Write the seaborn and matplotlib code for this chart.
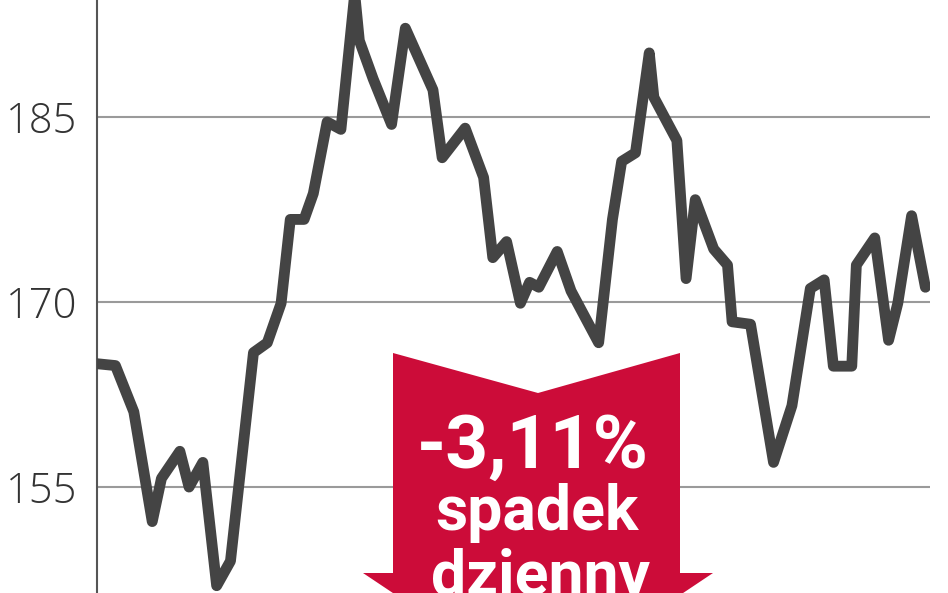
import matplotlib
matplotlib.use('Agg')

import pandas as pd
import numpy as np
from matplotlib import pyplot as plt
from matplotlib.patches import Polygon
import seaborn as sns

# notowania - numer dnia i kurs
dni = [0, 4, 8, 12, 14, 18, 20, 23, 26, 29, 34, 37, 40, 42, 45, 47, 50, 53,
       56, 57, 60, 64, 67, 70, 73, 75, 80, 84, 86, 89, 92, 94, 96, 100, 103,
       109, 112, 114, 117, 120, 121, 126, 128, 130, 134, 137, 138, 142, 147,
       151, 155, 158, 160, 164, 165, 169, 172, 174, 177, 180]
kurs = [165.0, 164.85, 161.1, 152.2, 155.7, 157.9, 155.0, 157.0, 147.0, 149.0,
        165.9, 166.7, 169.9, 176.7, 176.7, 178.8, 184.6, 184.0, 195.0, 191.2,
        188.1, 184.4, 192.2, 189.7, 187.2, 181.7, 184.1, 180.1, 173.6, 174.9,
        169.9, 171.6, 171.2, 174.1, 170.9, 166.7, 176.7, 181.4, 182.1, 190.2,
        186.6, 183.1, 171.9, 178.3, 174.3, 173.0, 168.4, 168.2, 157.0, 161.6,
        171.1, 171.8, 164.8, 164.8, 173.0, 175.2, 166.9, 169.9, 177.0, 171.2]
poziomy = [155, 170, 185]
etykiety = ['155', '170', '185']
zmiana = '-3,11%'
opis = ['spadek', 'dzienny']

df = pd.DataFrame({'dzien': dni, 'kurs': kurs})

sns.set_style('white')
plt.rcParams['font.family'] = ['Open Sans', 'DejaVu Sans']

W, H = 948, 593
fig = plt.figure(figsize=(W / 100, H / 100), dpi=100)
ax = fig.add_axes([97 / W, 0, (930 - 97) / W, 1])

for p in poziomy:
    ax.axhline(p, color='#9a9a9a', lw=1.5, zorder=1)

sns.lineplot(data=df, x='dzien', y='kurs', ax=ax, color='#444444', lw=7.8,
             estimator=None, zorder=3, solid_joinstyle='round',
             solid_capstyle='round')

ax.set_xlim(0, 181)
ax.set_ylim(146.41, 194.49)
ax.set_xticks([])
ax.set_yticks(poziomy)
ax.set_yticklabels(etykiety, fontsize=30, fontweight='light', color='#333333')
ax.tick_params(axis='y', length=0, pad=14)
ax.set_xlabel('')
ax.set_ylabel('')
for s in ['top', 'right', 'bottom']:
    ax.spines[s].set_visible(False)
ax.spines['left'].set_color('#555555')
ax.spines['left'].set_linewidth(1.5)


# czerwona strzalka (wspolrzedne w pikselach obrazu, od gory)
def px(x, y):
    return (x / W, 1 - y / H)


strzalka = [px(393, 353), px(538, 393), px(680, 353), px(680, 573),
            px(713, 573), px(538, 690), px(363, 573), px(393, 573)]
fig.patches.append(Polygon(strzalka, closed=True, transform=fig.transFigure,
                           facecolor='#cc0c39', edgecolor='none', zorder=5))

fig.text(533 / W, 1 - 468 / H, zmiana, ha='center', va='baseline',
         fontsize=54, fontweight='bold', color='white', family='Roboto',
         zorder=6)
fig.text(537 / W, 1 - 530 / H, opis[0], ha='center', va='baseline',
         fontsize=45, fontweight='bold', color='white', family='Roboto',
         zorder=6)
fig.text(540 / W, 1 - 594 / H, opis[1], ha='center', va='baseline',
         fontsize=45, fontweight='bold', color='white', family='Roboto',
         zorder=6)

plt.savefig('out.png', dpi=100)
